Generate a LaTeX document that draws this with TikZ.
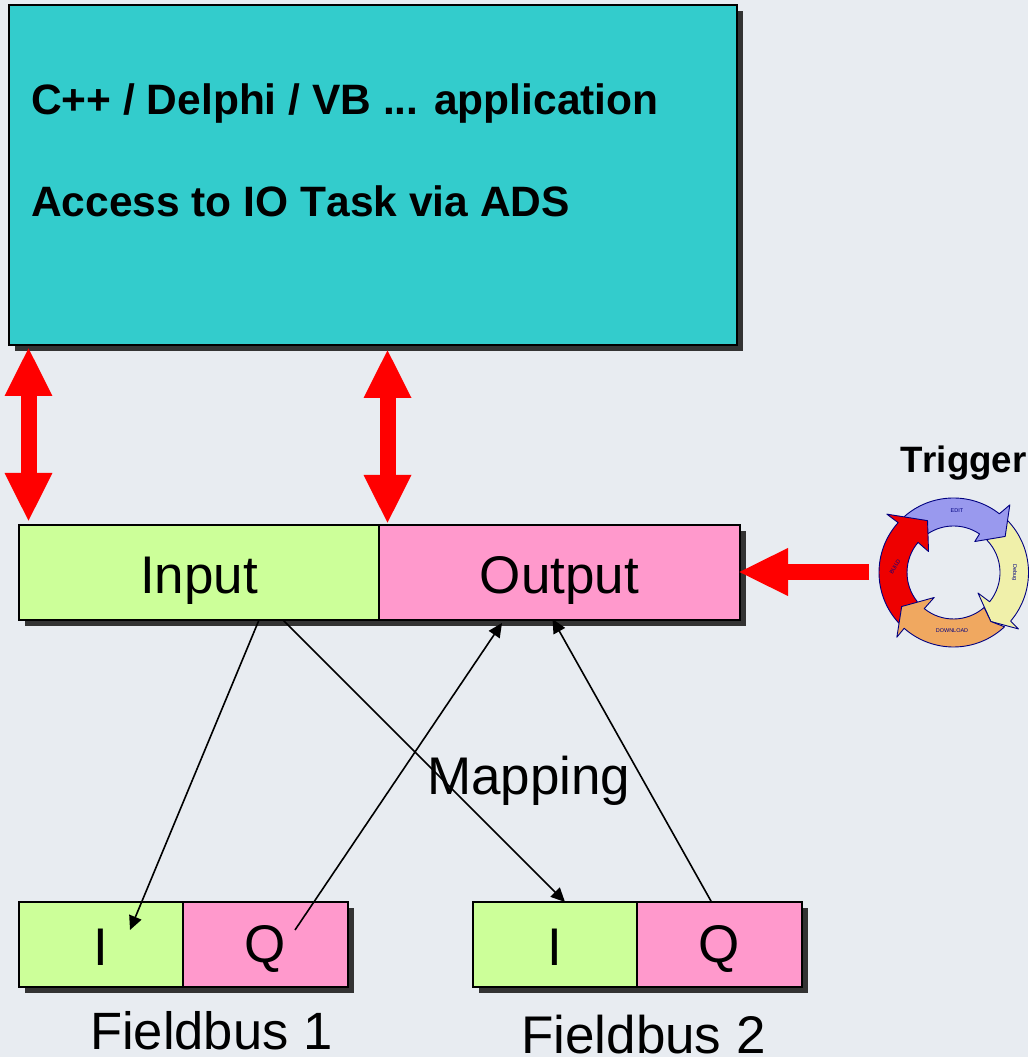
\documentclass[tikz,border=0pt]{standalone}
\usepackage{fontspec}
\setmainfont{Liberation Sans}[Kerning=Off]
\usepackage{tikz}
\usetikzlibrary{arrows.meta}
\definecolor{pagebg}{HTML}{E8ECF1}
\definecolor{appteal}{HTML}{33CCCC}
\definecolor{ingreen}{HTML}{CCFF99}
\definecolor{outpink}{HTML}{FF99CC}
\definecolor{shadowgray}{HTML}{333333}
\definecolor{cycleline}{HTML}{000080}
\definecolor{cycleblue}{HTML}{9999EE}
\definecolor{cycleyellow}{HTML}{F0F0AA}
\definecolor{cycleorange}{HTML}{F0A860}
\definecolor{cyclered}{HTML}{EE0000}
\tikzset{
	box/.style={draw=black, line width=1.8pt, inner sep=0pt, outer sep=0pt, text height=42pt, text depth=0pt, font=\fontsize{53}{53}\selectfont, anchor=north west},
	boxshadow/.style={fill=shadowgray, draw=none},
	apptext/.style={anchor=base west, inner sep=0pt, font=\fontsize{42.5}{42.5}\selectfont\bfseries},
	plaintext/.style={anchor=base west, inner sep=0pt, font=\fontsize{53}{53}\selectfont},
	maparrow/.style={line width=1.6pt, -{Triangle[length=14pt,width=13pt]}},
	redarrow/.style={red, line width=16pt, {Triangle[length=49pt,width=44pt]}-{Triangle[length=49pt,width=44pt]}},
	cyclepart/.style={draw=cycleline, line width=0.9pt, line join=round},
	cyclelabel/.style={inner sep=0pt, text=cycleline, font=\fontsize{5.5}{5.5}\selectfont}
}
\begin{document}
\begin{tikzpicture}[x=1pt, y=1pt]
	\useasboundingbox[fill=pagebg] (0,0) rectangle (1028,1057);

	% shadows
	\fill[boxshadow] (15,1046) rectangle (743,706);
	\fill[boxshadow] (25,526) rectangle (746,431);
	\fill[boxshadow] (25,149) rectangle (354,64);
	\fill[boxshadow] (479,149) rectangle (808,64);

	% boxes
	\node[box, fill=appteal, minimum width=728pt, minimum height=340pt] (app) at (9,1052) {};
	\node[box, fill=ingreen, minimum width=360pt, minimum height=95pt] (input) at (19,532) {Input};
	\node[box, fill=outpink, minimum width=361pt, minimum height=95pt] (output) at (379,532) {Output};
	\node[box, fill=ingreen, minimum width=164pt, minimum height=85pt] (busonei) at (19,155) {I};
	\node[box, fill=outpink, minimum width=165pt, minimum height=85pt, text height=37pt, xshift=1pt] (busoneq) at (182,155) {Q};
	\node[box, fill=ingreen, minimum width=164pt, minimum height=85pt] (bustwoi) at (473,155) {I};
	\node[box, fill=outpink, minimum width=165pt, minimum height=85pt, text height=37pt, xshift=1pt] (bustwoq) at (636,155) {Q};

	% texts
	\node[apptext] (appline) at (31,942) {C++ / Delphi / VB ... application};
	\node[apptext] (adsline) at (31,840) {Access to IO Task via ADS};
	\node[plaintext] (mapping) at (427,262) {Mapping};
	\node[plaintext, font=\fontsize{52.5}{52.5}\selectfont] (busonelabel) at (90,8) {Fieldbus 1};
	\node[plaintext] (bustwolabel) at (521,3) {Fieldbus 2};
	\node[anchor=base west, inner sep=0pt, font=\fontsize{36.7}{36.7}\selectfont\bfseries] (trigger) at (900,584) {Trigger};

	% red arrows
	\draw[redarrow] ([xshift=-344.5pt, yshift=-2pt]app.south) -- ([xshift=-170.5pt, yshift=3pt]input.north);
	\draw[redarrow] ([xshift=14.5pt, yshift=-4pt]app.south) -- ([xshift=8.5pt, yshift=1pt]output.north west);
	\draw[red, line width=16pt, -{Triangle[length=50pt,width=44pt]}] (869,485) coordinate (triggerout) -- ([xshift=-2pt, yshift=0.5pt]output.east);

	% mapping
	\draw[maparrow] ([xshift=60pt]input.south) -- ([xshift=29pt, yshift=-28pt]busonei.north);
	\draw[maparrow] ([xshift=84pt]input.south) -- ([xshift=10pt]bustwoi.north);
	\draw[maparrow] ([xshift=29.5pt, yshift=-28pt]busoneq.north) -- ([xshift=-57.5pt, yshift=-3pt]output.south);
	\draw[maparrow] ([xshift=-8pt]bustwoq.north) -- ([xshift=-7pt, yshift=1pt]output.south);

	% cycle
	\begin{scope}[shift={(953.5,484.5)}]
		\draw[cyclepart, fill=cycleyellow] (44:75) arc[start angle=44, end angle=-40.4, radius=75] -- (-41:86) -- (-52.7:61.6) -- (-40:32) -- (-39:46.5) arc[start angle=-39, end angle=44, radius=46.5] -- cycle;
		\draw[cyclepart, fill=cycleblue] (131.7:74.5) arc[start angle=131.7, end angle=52, radius=74.5] -- (50.2:88) -- (34.9:63) -- (55.5:37.6) -- (56:46.5) arc[start angle=56, end angle=123.5, radius=46.5] -- cycle;
		\draw[cyclepart, fill=cyclered] (223:74.5) arc[start angle=223, end angle=138, radius=74.5] -- (138.8:88.6) -- (116.6:58) -- (140:32.6) -- (139.7:46.5) arc[start angle=139.7, end angle=218.9, radius=46.5] -- cycle;
		\draw[cyclepart, fill=cycleorange] (-46.8:74.5) arc[start angle=-46.8, end angle=-131.5, radius=74.5] -- (-131.2:86) -- (-146.7:62) -- (-127.7:31.6) -- (-129:46.5) arc[start angle=-129, end angle=-48.8, radius=46.5] -- (-52.7:61.6) -- cycle;
		\node[cyclelabel] (editlabel) at (3.5,61.5) {EDIT};
		\node[cyclelabel] (downloadlabel) at (-1.5,-58.5) {DOWNLOAD};
		\node[cyclelabel, rotate=-90] (debuglabel) at (61,0) {Debug};
		\node[cyclelabel, rotate=60] (buildlabel) at (-58.5,5.5) {BUILD};
	\end{scope}
\end{tikzpicture}
\end{document}
